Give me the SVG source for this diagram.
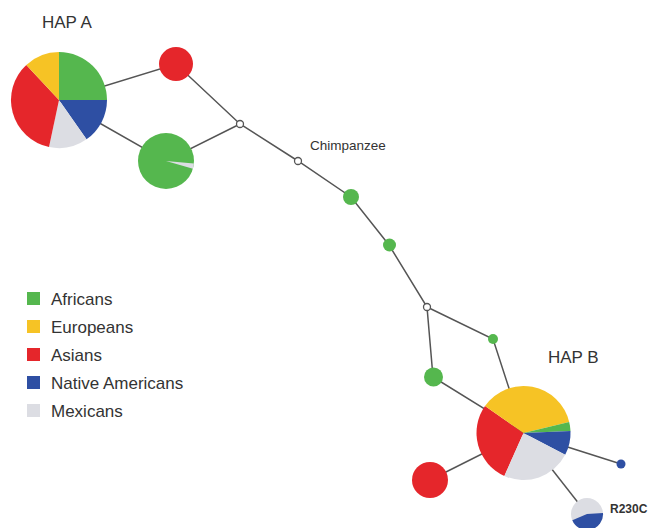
<svg xmlns="http://www.w3.org/2000/svg" width="652" height="528" viewBox="0 0 652 528">
<style>
.af{fill:#55b74e}.eu{fill:#f6c325}.as{fill:#e5262b}.na{fill:#2e4fa3}.mx{fill:#dcdde3}
.edge{stroke:#555;stroke-width:1.5;fill:none}
.med{fill:#fff;stroke:#555;stroke-width:1.3}
.lbl{font-family:"Liberation Sans",Arial,sans-serif;fill:#333}
</style>
<rect width="652" height="528" fill="#fff"/>
<g id="connectors">
<polyline class="edge" points="59,100 176,64 240,124 298,161 351,197 389,245 427,307 433,377 523.5,433"/>
<polyline class="edge" points="59,100 166,161 240,124"/>
<polyline class="edge" points="427,307 493,339 523.5,433"/>
<line class="edge" x1="523.5" y1="433" x2="430" y2="480"/>
<line class="edge" x1="523.5" y1="433" x2="621" y2="464"/>
<line class="edge" x1="523.5" y1="433" x2="587" y2="514"/>
</g>
<g id="hapA">
<path class="af" d="M59,100 L59,52 A48,48 0 0 1 107,100 Z"/>
<path class="na" d="M59,100 L107,100 A48,48 0 0 1 86.5,139.3 Z"/>
<path class="mx" d="M59,100 L86.5,139.3 A48,48 0 0 1 49,147 Z"/>
<path class="as" d="M59,100 L49,147 A48,48 0 0 1 26.3,64.9 Z"/>
<path class="eu" d="M59,100 L26.3,64.9 A48,48 0 0 1 59,52 Z"/>
<text class="lbl" x="42" y="28" font-size="17">HAP A</text>
</g>
<g id="redA"><circle class="as" cx="176" cy="64" r="17"/></g>
<g id="greenA">
<circle class="af" cx="166" cy="161" r="28"/>
<path class="mx" d="M166,161 L193.9,163.4 A28,28 0 0 1 192.9,168.7 Z"/>
</g>
<g id="m1"><circle class="med" cx="240" cy="124" r="3.5"/></g>
<g id="chimp">
<circle class="med" cx="298" cy="161" r="3.5"/>
<text class="lbl" x="310" y="150" font-size="13.5" fill="#444">Chimpanzee</text>
</g>
<g id="g1"><circle class="af" cx="351" cy="197" r="8"/></g>
<g id="g2"><circle class="af" cx="389.5" cy="245" r="6.5"/></g>
<g id="m2"><circle class="med" cx="427" cy="307" r="3.5"/></g>
<g id="g3"><circle class="af" cx="493" cy="339" r="5"/></g>
<g id="g4"><circle class="af" cx="433.5" cy="377" r="9.5"/></g>
<g id="hapB">
<path class="as" d="M523.5,433 L504.4,475.9 A47,47 0 0 1 485,406 Z"/>
<path class="eu" d="M523.5,433 L485,406 A47,47 0 0 1 569.2,422.1 Z"/>
<path class="af" d="M523.5,433 L569.2,422.1 A47,47 0 0 1 570.5,431 Z"/>
<path class="na" d="M523.5,433 L570.5,431 A47,47 0 0 1 565.2,454.8 Z"/>
<path class="mx" d="M523.5,433 L565.2,454.8 A47,47 0 0 1 504.4,475.9 Z"/>
<text class="lbl" x="548" y="363" font-size="17">HAP B</text>
</g>
<g id="redB"><circle class="as" cx="430" cy="480" r="18"/></g>
<g id="blueB"><circle class="na" cx="621" cy="464" r="4.5"/></g>
<g id="r230c">
<circle class="mx" cx="587" cy="514" r="16"/>
<path class="na" d="M587,514 L603,512.9 A16,16 0 0 1 572.3,520.3 Z"/>
<text class="lbl" x="610" y="513" font-size="12" font-weight="bold" fill="#111">R230C</text>
</g>
<g id="legend">
<rect class="af" x="27" y="292" width="13" height="13"/>
<text class="lbl" x="51" y="305" font-size="17">Africans</text>
<rect class="eu" x="27" y="320" width="13" height="13"/>
<text class="lbl" x="51" y="333" font-size="17">Europeans</text>
<rect class="as" x="27" y="348" width="13" height="13"/>
<text class="lbl" x="51" y="361" font-size="17">Asians</text>
<rect class="na" x="27" y="376" width="13" height="13"/>
<text class="lbl" x="51" y="389" font-size="17">Native Americans</text>
<rect class="mx" x="27" y="404" width="13" height="13"/>
<text class="lbl" x="51" y="417" font-size="17">Mexicans</text>
</g>
</svg>
